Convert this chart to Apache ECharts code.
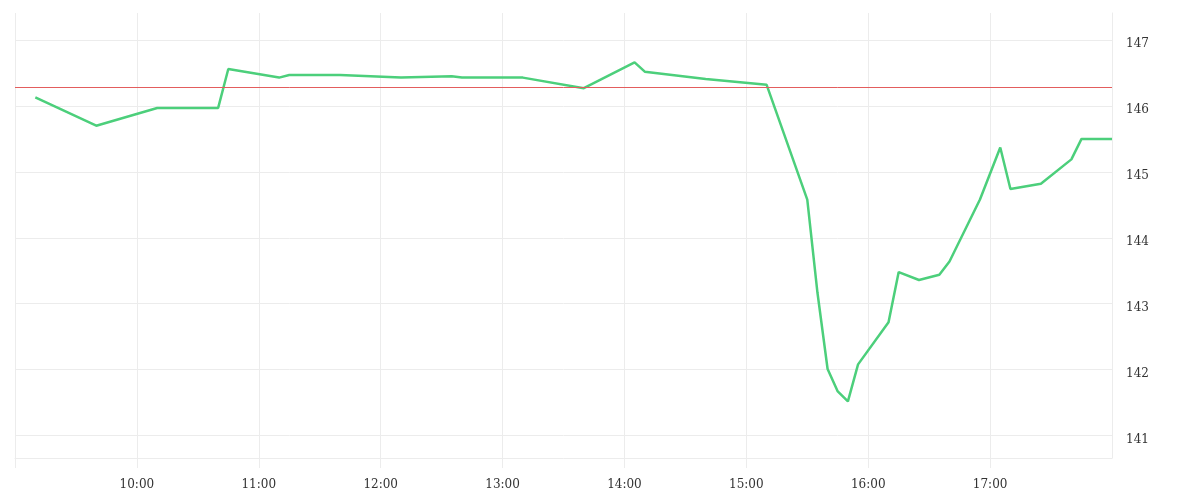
<!DOCTYPE html>
<html>
<head>
<meta charset="utf-8">
<script src="https://cdn.jsdelivr.net/npm/echarts@6/dist/echarts.min.js"></script>
<style>
  html, body { margin: 0; padding: 0; background: #fff; }
  #chart { width: 1200px; height: 500px; }
</style>
</head>
<body>
<div id="chart"></div>
<script>
    // 数据
    const day = "2024-01-15";
    const times = [
        "09:10", "09:40", "10:10", "10:40", "10:45", "11:10", "11:15", "11:40",
        "12:10", "12:35", "12:40", "13:10", "13:40", "14:05", "14:10", "14:40",
        "15:10", "15:30", "15:35", "15:40", "15:45", "15:50", "15:55", "16:10",
        "16:15", "16:25", "16:35", "16:40", "16:55", "17:05", "17:10", "17:25",
        "17:40", "17:45", "18:00"
    ];
    const prices = [
        146.13, 145.70, 145.97, 145.97, 146.56, 146.43, 146.47, 146.47,
        146.43, 146.45, 146.43, 146.43, 146.27, 146.66, 146.52, 146.41,
        146.32, 144.58, 143.17, 142.01, 141.67, 141.52, 142.08, 142.72,
        143.48, 143.36, 143.44, 143.64, 144.58, 145.37, 144.74, 144.82,
        145.19, 145.50, 145.50
    ];
    const refPrice = 146.28;
    const axisStart = "09:00";
    const axisEnd = "18:00";
    const yMin = 140.66;
    const yMax = 147.41;

    const gridColor = "#ececec";
    const labelFont = "DejaVu Serif";

    function drawChart() {
        const myChart = echarts.init(document.getElementById("chart"));
        const datas = times.map((t, i) => [day + " " + t, prices[i]]);
        const startMs = new Date(day + "T" + axisStart).getTime();
        const endMs = new Date(day + "T" + axisEnd).getTime();

        const option = {
            animation: false,
            grid: { left: 15, right: 88, top: 13, bottom: 42, containLabel: false, outerBoundsMode: "none" },
            xAxis: {
                type: "time",
                min: startMs,
                max: endMs,
                minInterval: 3600 * 1000,
                maxInterval: 3600 * 1000,
                axisLine: { show: true, lineStyle: { color: gridColor } },
                axisTick: { show: true, length: 10, lineStyle: { color: gridColor } },
                splitLine: { show: true, lineStyle: { color: gridColor } },
                axisLabel: {
                    showMinLabel: false,
                    showMaxLabel: false,
                    margin: 21,
                    color: "#333",
                    fontFamily: labelFont,
                    fontSize: 12,
                    formatter: v => {
                        // 两端不显示
                        if (v <= startMs || v >= endMs) return "";
                        const d = new Date(v);
                        const hh = String(d.getHours()).padStart(2, "0");
                        const mm = String(d.getMinutes()).padStart(2, "0");
                        return hh + ":" + mm;
                    }
                }
            },
            yAxis: {
                type: "value",
                position: "right",
                min: yMin,
                max: yMax,
                axisLine: { show: true, lineStyle: { color: gridColor } },
                axisTick: { show: false },
                splitLine: { show: true, showMinLine: false, showMaxLine: false, lineStyle: { color: gridColor } },
                axisLabel: {
                    showMinLabel: false,
                    showMaxLabel: false,
                    margin: 14,
                    color: "#333",
                    fontFamily: labelFont,
                    fontSize: 12,
                    formatter: v => "{v|" + v + "}",
                    rich: {
                        v: { padding: [8, 0, 0, 0], color: "#333", fontFamily: labelFont, fontSize: 12 }
                    }
                }
            },
            series: [{
                type: "line",
                data: datas,
                symbol: "none",
                lineStyle: { color: "#4ccf7b", width: 2.5 },
                itemStyle: { color: "#4ccf7b" },
                markLine: {
                    silent: true,
                    symbol: "none",
                    label: { show: false },
                    lineStyle: { color: "#e35d5d", width: 1, type: "solid" },
                    data: [{ yAxis: refPrice }]
                }
            }]
        };

        myChart.setOption(option);
    }

    drawChart();
</script>
</body>
</html>
